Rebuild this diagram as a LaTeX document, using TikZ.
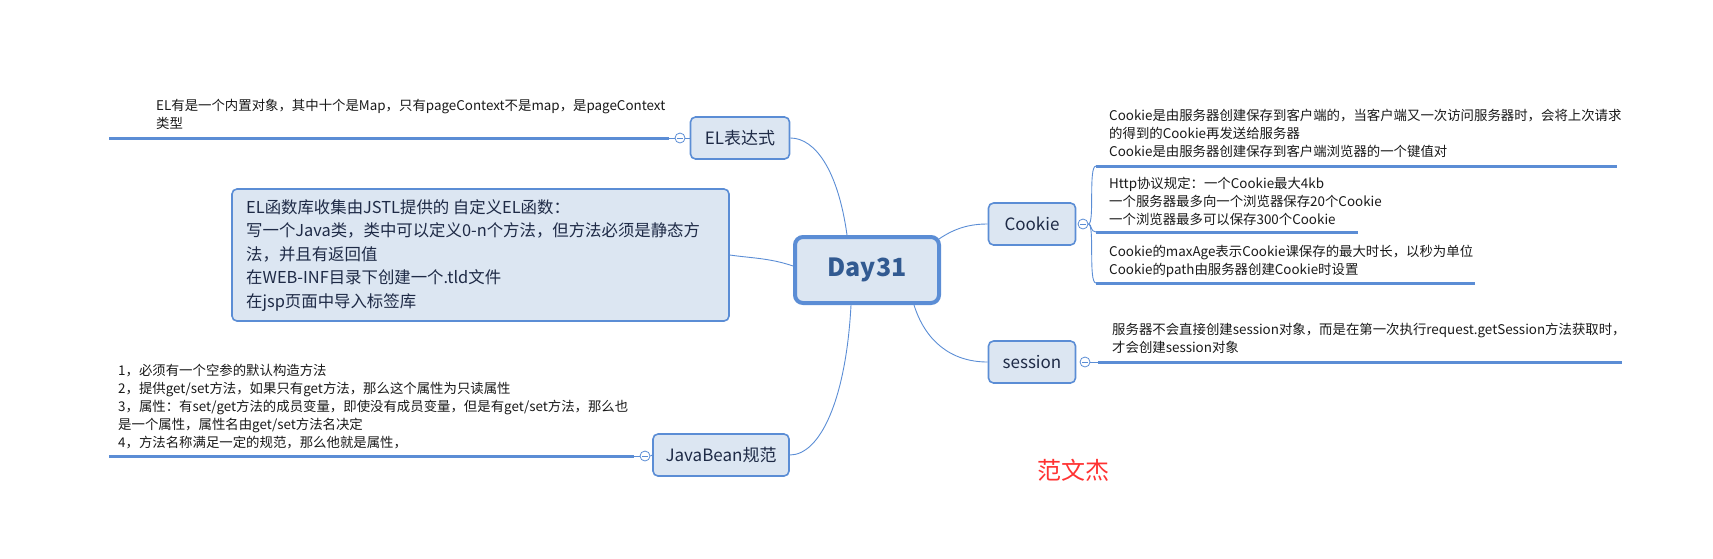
\documentclass[tikz,border=0pt]{standalone}
\usepackage{fontspec}
\setmainfont{Noto Sans CJK SC}
\definecolor{bblue}{RGB}{91,141,213}
\definecolor{bfill}{RGB}{220,230,242}
\definecolor{tcol}{RGB}{30,42,70}
\definecolor{dcol}{RGB}{50,90,145}
\definecolor{redc}{RGB}{255,50,50}
\definecolor{leafc}{RGB}{25,25,25}
\tikzset{
  topic/.style={draw=bblue, fill=bfill, line width=1.6pt, rounded corners=5pt, minimum height=42pt, text=tcol, font=\fontsize{17}{20}\selectfont, inner sep=0pt},
  central/.style={draw=bblue, fill=bfill, line width=4pt, rounded corners=8pt, minimum height=66pt, minimum width=144pt, text=dcol, font=\fontsize{25}{30}\selectfont\bfseries, inner sep=0pt},
  leaftext/.style={anchor=north west, align=left, inner sep=0pt, text=leafc, font=\fontsize{13.4}{18}\selectfont},
  bar/.style={draw=bblue, line width=3pt},
  link/.style={draw=bblue, line width=0.9pt},
  fold/.style={circle, draw=bblue, fill=white, line width=0.8pt, minimum size=10pt, inner sep=0pt,
    path picture={\draw[bblue, line width=0.8pt] ([xshift=-2.6pt]path picture bounding box.center) -- ([xshift=2.6pt]path picture bounding box.center);}}
}
\begin{document}
\begin{tikzpicture}[x=1pt,y=-1pt]
\useasboundingbox (0,0) rectangle (1713,558);

% central
\node[central] (day) at (867,270) {Day31};

% EL topic
\node[topic, minimum width=99pt] (el) at (740,138) {EL表达式};
\node[fold] (elf) at (680,138) {};
\coordinate (elb1) at (669,138);
\coordinate (elb0) at (109,138);
\draw[bar] (elb0) -- (elb1);
\draw[link] (elb1) -- (elf.west);
\draw[link] (elf.east) -- (el.west);
\node[leaftext] (elt) at (156,99) {EL有是一个内置对象，其中十个是Map，只有pageContext不是map，是pageContext\\类型};

% EL function box
\node[draw=bblue, fill=bfill, line width=1.6pt, rounded corners=5pt, minimum width=497pt, minimum height=132pt, inner sep=0pt] (fn) at (480.5,255) {};
\node[anchor=north west, align=left, inner sep=0pt, text=tcol, font=\fontsize{16.4}{23.5}\selectfont] (fnt) at (246,199) {EL函数库收集由JSTL提供的 自定义EL函数：\\写一个Java类，类中可以定义0-n个方法，但方法必须是静态方\\法，并且有返回值\\在WEB-INF目录下创建一个.tld文件\\在jsp页面中导入标签库};

% JavaBean topic
\node[topic, minimum width=136pt] (jb) at (721,455) {JavaBean规范};
\node[fold] (jbf) at (645,456) {};
\coordinate (jbb1) at (634,456);
\coordinate (jbb0) at (109,456);
\draw[bar] (jbb0) -- (jbb1);
\draw[link] (jbb1) -- (jbf.west);
\draw[link] (jbf.east) -- (jb.west);
\node[leaftext] (jbt) at (118,364) {1，必须有一个空参的默认构造方法\\2，提供get/set方法，如果只有get方法，那么这个属性为只读属性\\3，属性：有set/get方法的成员变量，即使没有成员变量，但是有get/set方法，那么也\\是一个属性，属性名由get/set方法名决定\\4，方法名称满足一定的规范，那么他就是属性，};

% Cookie topic
\node[topic, minimum width=87pt] (ck) at (1032,224) {Cookie};
\node[fold] (ckf) at (1083,224) {};
\coordinate (c1) at (1096,166);
\coordinate (c1e) at (1617,166);
\coordinate (c2) at (1096,232);
\coordinate (c2e) at (1358,232);
\coordinate (c3) at (1096,283);
\coordinate (c3e) at (1475,283);
\draw[link] (ckf.east) .. controls (1095,224) and (1088,166) .. (c1);
\draw[link] (ckf.east) .. controls (1092,224) and (1090,232) .. (c2);
\draw[link] (ckf.east) .. controls (1095,224) and (1088,283) .. (c3);
\draw[bar] (c1) -- (c1e);
\draw[bar] (c2) -- (c2e);
\draw[bar] (c3) -- (c3e);
\node[leaftext] (ck1) at (1109,109) {Cookie是由服务器创建保存到客户端的，当客户端又一次访问服务器时，会将上次请求\\的得到的Cookie再发送给服务器\\Cookie是由服务器创建保存到客户端浏览器的一个键值对};
\node[leaftext] (ck2) at (1109,177) {Http协议规定：一个Cookie最大4kb\\一个服务器最多向一个浏览器保存20个Cookie\\一个浏览器最多可以保存300个Cookie};
\node[leaftext] (ck3) at (1109,245) {Cookie的maxAge表示Cookie课保存的最大时长，以秒为单位\\Cookie的path由服务器创建Cookie时设置};

% session topic
\node[topic, minimum width=87pt] (se) at (1032,362) {session};
\node[fold] (sef) at (1085,362) {};
\coordinate (s1) at (1098,362);
\coordinate (s1e) at (1622,362);
\draw[link] (sef.east) -- (s1);
\draw[bar] (s1) -- (s1e);
\node[leaftext] (set) at (1112,323) {服务器不会直接创建session对象，而是在第一次执行request.getSession方法获取时，\\才会创建session对象};

% connectors from central
\draw[link] (day.north west) ++(54,0) coordinate (d1) .. controls (838,170) and (815,138) .. (el.east);
\draw[link] (day.west) ++(0,-4) coordinate (d2) .. controls (770,258) and (750,258) .. (fn.east);
\draw[link] (day.south west) ++(58,0) coordinate (d3) .. controls (846,400) and (820,455) .. (jb.east);
\draw[link] (day.north east) ++(-2,4) coordinate (d4) .. controls (955,228) and (970,224) .. (ck.west);
\draw[link] (day.south east) ++(-27,0) coordinate (d5) .. controls (925,340) and (950,362) .. (se.west);

% signature
\node[text=redc, font=\fontsize{24}{28}\selectfont] (sig) at (1073,470) {范文杰};
\end{tikzpicture}
\end{document}
